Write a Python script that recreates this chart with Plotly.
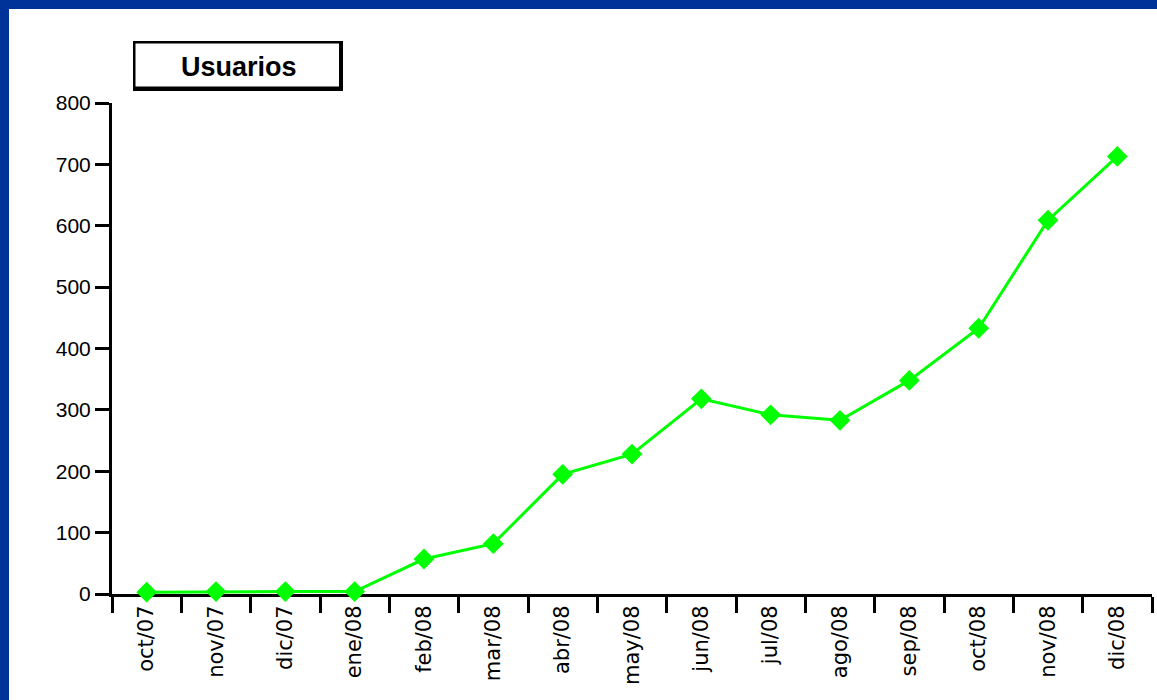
import plotly.graph_objects as go

# data
meses = ["oct/07", "nov/07", "dic/07", "ene/08", "feb/08", "mar/08", "abr/08",
         "may/08", "jun/08", "jul/08", "ago/08", "sep/08", "oct/08", "nov/08", "dic/08"]
usuarios = [3, 4, 4, 4, 57, 82, 195, 228, 318, 292, 283, 348, 433, 609, 713]
y_ticks = [0, 100, 200, 300, 400, 500, 600, 700, 800]

W, H = 1157, 700
# plot area in pixels
L, R, T, B = 112, 1152, 103, 594


def px2x(p):
    return (p - L) / (R - L)


def px2y(p):
    return (B - p) / (B - T)


fuente = "Arial, Liberation Sans, sans-serif"
azul = "#003399"

fig = go.Figure()

fig.add_trace(go.Scatter(
    x=meses,
    y=usuarios,
    mode="lines+markers",
    line=dict(color="#00ff00", width=3),
    marker=dict(symbol="diamond", size=16, color="#00ff00"),
    cliponaxis=False,
    showlegend=False,
))

shapes = [
    # blue frame (left and top)
    dict(type="rect", xref="paper", yref="paper", layer="below",
         x0=px2x(0), x1=px2x(9), y0=px2y(H), y1=px2y(0),
         fillcolor=azul, line_width=0),
    dict(type="rect", xref="paper", yref="paper", layer="below",
         x0=px2x(0), x1=px2x(W), y0=px2y(9), y1=px2y(0),
         fillcolor=azul, line_width=0),
    # title box with shadowed border
    dict(type="rect", xref="paper", yref="paper",
         x0=px2x(133), x1=px2x(343), y0=px2y(91), y1=px2y(41),
         fillcolor="black", line_width=0),
    dict(type="rect", xref="paper", yref="paper",
         x0=px2x(135.5), x1=px2x(339), y0=px2y(86.5), y1=px2y(43.5),
         fillcolor="white", line_width=0),
]

fig.update_layout(
    width=W, height=H,
    margin=dict(l=L, r=W - R, t=T, b=H - B),
    paper_bgcolor="white",
    plot_bgcolor="white",
    font=dict(family=fuente, size=21, color="black"),
    shapes=shapes,
    annotations=[dict(
        text="<b>Usuarios</b>", xref="paper", yref="paper",
        x=px2x(239), y=px2y(67), xanchor="center", yanchor="middle",
        showarrow=False, font=dict(family=fuente, size=27, color="black"),
    )],
)

fig.update_xaxes(
    type="category", range=[-0.5, len(meses) - 0.5],
    showline=True, linecolor="black", linewidth=3,
    ticks="outside", tickson="boundaries", ticklen=16, tickwidth=3, tickcolor="black",
    tickangle=-90, tickfont=dict(family="DejaVu Sans", size=21),
    showgrid=False, zeroline=False, layer="below traces",
)
fig.update_yaxes(
    range=[0, 800], tickvals=y_ticks,
    showline=True, linecolor="black", linewidth=3,
    ticks="outside", ticklen=14, tickwidth=3, tickcolor="black",
    showgrid=False, zeroline=False, layer="below traces",
)

# page margin off so the figure sits at the window corner, no modebar
fig.write_html("out.html", config={"displayModeBar": False},
               post_script="document.body.style.margin='0';")
